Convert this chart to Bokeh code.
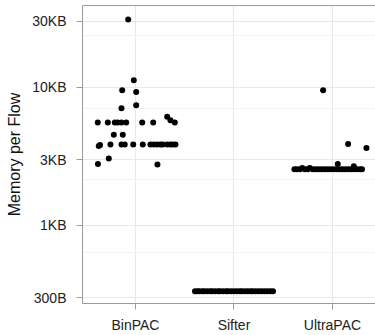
from bokeh.plotting import figure
from bokeh.models import FixedTicker, LinearAxis, Range1d, ColumnDataSource
from bokeh.embed import file_html
from bokeh.resources import INLINE

categories = ["BinPAC", "Sifter", "UltraPAC"]

binpac_values = [31000, 11250, 9530, 9270, 7060, 7420, 6110, 5780,
                 5570, 5570, 5570, 5570, 5570, 5570, 5570, 5570, 5570,
                 4540, 4540,
                 3760, 3820, 3860, 3860, 3860, 3860, 3860, 3860, 3860, 3860,
                 3860, 3860, 3860, 3860, 3860, 3860,
                 2780, 3050, 2760]
binpac_jitter = [-0.074, -0.017, -0.135, 0.007, -0.142, 0.007, 0.322, 0.355,
                 -0.383, -0.281, -0.210, -0.180, -0.142, -0.094, 0.068, 0.180, 0.399,
                 -0.220, -0.129,
                 -0.373, -0.360, -0.254, -0.142, -0.109, -0.023, 0.074, 0.152, 0.186, 0.220,
                 0.254, 0.277, 0.322, 0.355, 0.379, 0.406,
                 -0.381, -0.271, 0.223]

sifter_values = [333] * 30
sifter_jitter = [-0.396, -0.37, -0.35, -0.32, -0.30, -0.27, -0.24, -0.22, -0.19, -0.16,
                 -0.14, -0.11, -0.08, -0.06, -0.03, 0.00, 0.03, 0.06, 0.08, 0.11,
                 0.14, 0.17, 0.19, 0.22, 0.25, 0.28, 0.31, 0.34, 0.37, 0.396]

ultrapac_values = [9530, 3880, 3630, 2780, 2680, 2600, 2600,
                   2550, 2550, 2550, 2550, 2550, 2550, 2550, 2550, 2550, 2550, 2550, 2550,
                   2550, 2550, 2550, 2550, 2550, 2550, 2550, 2550, 2550, 2550, 2550]
ultrapac_jitter = [-0.095, 0.159, 0.345, 0.054, 0.217, -0.307, -0.230,
                   -0.386, -0.36, -0.33, -0.28, -0.25, -0.20, -0.17, -0.14, -0.11, -0.08, -0.05,
                   -0.02, 0.01, 0.04, 0.07, 0.10, 0.13, 0.16, 0.19, 0.22, 0.25, 0.28, 0.30]

y_ticks = [300, 1000, 3000, 10000, 30000]
y_tick_labels = ["300B", "1KB", "3KB", "10KB", "30KB"]
y_minor = [634, 2135, 7065, 23770]

groups = [(binpac_values, binpac_jitter), (sifter_values, sifter_jitter),
          (ultrapac_values, ultrapac_jitter)]
xs, ys = [], []
for i, (vals, jit) in enumerate(groups):
    for v, j in zip(vals, jit):
        xs.append(i + 1 + j)
        ys.append(v)
src = ColumnDataSource(dict(x=xs, y=ys))

FONT = "Liberation Sans"
BORDER = "#9a9a9a"

p = figure(width=375, height=335, output_backend="svg", toolbar_location=None,
           y_axis_type="log",
           x_range=Range1d(0.462, 3.437), y_range=Range1d(271.6, 39170),
           min_border_left=82, min_border_right=0, min_border_top=5, min_border_bottom=31)
p.outline_line_color = None
p.background_fill_color = "white"
p.border_fill_color = "white"

p.scatter("x", "y", source=src, size=6, fill_color="black", line_color=None)

# axes
p.xaxis.ticker = FixedTicker(ticks=[1, 2, 3])
p.xaxis.major_label_overrides = {1: categories[0], 2: categories[1], 3: categories[2]}
p.yaxis.ticker = FixedTicker(ticks=y_ticks, minor_ticks=y_minor)
p.yaxis.major_label_overrides = {t: l for t, l in zip(y_ticks, y_tick_labels)}

for ax in (p.xaxis[0], p.yaxis[0]):
    ax.axis_line_color = BORDER
    ax.major_tick_line_color = BORDER
    ax.major_tick_in = 0
    ax.major_tick_out = 6
    ax.minor_tick_line_color = None
    ax.major_label_text_font = FONT
    ax.major_label_text_font_size = "14px"
    ax.major_label_text_color = "#222222"

p.xaxis.major_label_standoff = 7
p.yaxis.major_label_standoff = 10
p.yaxis.axis_label = "Memory per Flow"
p.yaxis.axis_label_text_font = FONT
p.yaxis.axis_label_text_font_size = "16px"
p.yaxis.axis_label_text_font_style = "normal"
p.yaxis.axis_label_text_color = "#111111"
p.yaxis.axis_label_standoff = 6

top = LinearAxis(ticker=FixedTicker(ticks=[]), axis_line_color=BORDER,
                 major_tick_line_color=None, minor_tick_line_color=None,
                 major_label_text_font_size="0px")
p.add_layout(top, "above")

# grids
p.xgrid.grid_line_color = "#e8e8e8"
p.ygrid.grid_line_color = "#e8e8e8"
p.ygrid.minor_grid_line_color = "#f3f3f3"
p.xgrid.grid_line_width = 1
p.ygrid.grid_line_width = 1

open("out.html", "w").write(file_html(p, INLINE))
